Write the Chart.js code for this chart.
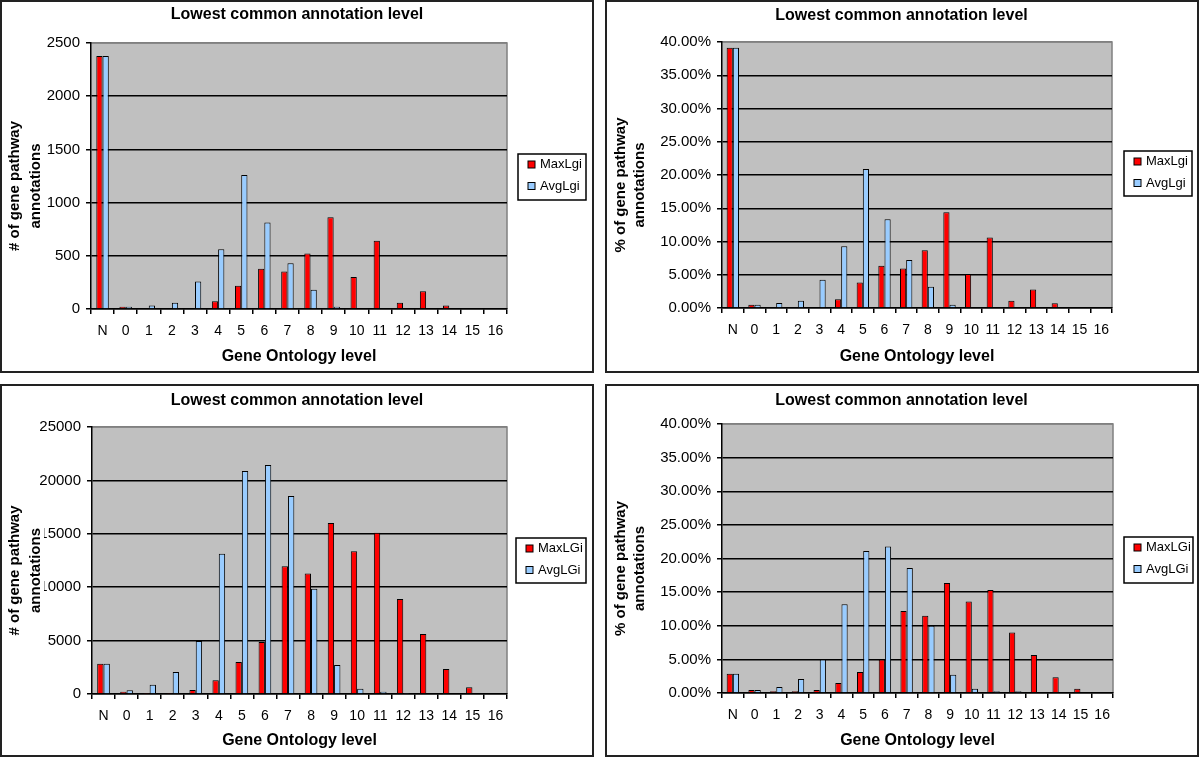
<!DOCTYPE html>
<html>
<head>
<meta charset="utf-8">
<title>Lowest common annotation level</title>
<script src="https://cdn.jsdelivr.net/npm/chart.js@4.4.0/dist/chart.umd.min.js"></script>
<style>
  body { margin: 0; background: #fff; }
  #page { position: relative; width: 1200px; height: 758px; overflow: hidden; }
  .panel { position: absolute; width: 594px; height: 373px; box-sizing: border-box; border: 2px solid #222; background: #fff; }
  .panel canvas { position: absolute; left: 0; top: 0; }
</style>
</head>
<body>
<div id="page">
  <div class="panel" style="left:0;top:0"><canvas id="countLgi" width="590" height="369"></canvas></div>
  <div class="panel" style="left:605px;top:0"><canvas id="pctLgi" width="589" height="369"></canvas></div>
  <div class="panel" style="left:0;top:384px"><canvas id="countLGi" width="590" height="369"></canvas></div>
  <div class="panel" style="left:605px;top:384px"><canvas id="pctLGi" width="589" height="369"></canvas></div>
</div>
<script>
// Gene Ontology levels (x categories)
const levels = ["N", "0", "1", "2", "3", "4", "5", "6", "7", "8", "9", "10", "11", "12", "13", "14", "15", "16"];

// Top left: number of annotations (Lgi)
const countMaxLgi = [2378, 22, 0, 0, 0, 72, 219, 378, 353, 522, 862, 300, 641, 59, 166, 34, 0, 0];
const countAvgLgi = [2378, 22, 34, 59, 259, 562, 1259, 812, 431, 181, 22, 0, 0, 0, 0, 0, 0, 0];

// Top right: percentage of annotations (Lgi)
const pctMaxLgi = [39.15, 0.5, 0, 0, 0, 1.3, 3.85, 6.35, 5.95, 8.7, 14.4, 5.1, 10.6, 1.1, 2.8, 0.7, 0, 0];
const pctAvgLgi = [39.15, 0.5, 0.75, 1.1, 4.25, 9.3, 20.9, 13.35, 7.2, 3.2, 0.5, 0, 0, 0, 0, 0, 0, 0];

// Bottom left: number of annotations (LGi)
const countMaxLGi = [2844, 219, 94, 94, 375, 1281, 3000, 4875, 11969, 11281, 16000, 13375, 15094, 8906, 5625, 2344, 625, 0];
const countAvgLGi = [2844, 344, 875, 2063, 4969, 13125, 20875, 21438, 18531, 9844, 2719, 500, 219, 94, 0, 0, 0, 0];

// Bottom right: percentage of annotations (LGi)
const pctMaxLGi = [2.88, 0.45, 0.25, 0.25, 0.45, 1.5, 3.13, 4.97, 12.2, 11.5, 16.35, 13.6, 15.3, 9.0, 5.66, 2.34, 0.65, 0];
const pctAvgLGi = [2.88, 0.45, 0.9, 2.1, 4.97, 13.2, 21.1, 21.8, 18.6, 10.0, 2.73, 0.65, 0.25, 0.25, 0, 0, 0, 0];

const FONT = "'Liberation Sans', Arial, sans-serif";

// grey plot area like the old Excel charts
const plotBackground = {
  id: "plotBackground",
  beforeDraw(chart) {
    const { ctx, chartArea: a } = chart;
    ctx.save();
    ctx.fillStyle = "#c0c0c0";
    ctx.fillRect(a.left, a.top, a.right - a.left, a.bottom - a.top);
    ctx.strokeStyle = "#808080";
    ctx.lineWidth = 1.5;
    ctx.beginPath();
    ctx.moveTo(a.left, a.top);
    ctx.lineTo(a.right, a.top);
    ctx.lineTo(a.right, a.bottom);
    ctx.stroke();
    ctx.restore();
  },
};

// legend with a frame around it
const boxedLegend = {
  id: "boxedLegend",
  afterDraw(chart, args, opts) {
    const { ctx } = chart;
    const b = opts.box;
    ctx.save();
    ctx.fillStyle = "#fff";
    ctx.fillRect(b.x, b.y, b.w, b.h);
    ctx.strokeStyle = "#000";
    ctx.lineWidth = 1.5;
    ctx.strokeRect(b.x, b.y, b.w, b.h);
    ctx.font = "13px " + FONT;
    ctx.textBaseline = "middle";
    chart.data.datasets.forEach((ds, i) => {
      const cy = b.y + 10.5 + i * 21.5;
      ctx.fillStyle = ds.backgroundColor;
      ctx.fillRect(b.x + 10, cy - 3.5, 7, 7);
      ctx.strokeStyle = "#000";
      ctx.lineWidth = 1;
      ctx.strokeRect(b.x + 10, cy - 3.5, 7, 7);
      ctx.fillStyle = "#000";
      ctx.fillText(ds.label, b.x + 22, cy);
    });
    ctx.restore();
  },
};

// y title on a white backing, drawn last (it hides the tick label under it)
const yAxisTitle = {
  id: "yAxisTitle",
  afterDraw(chart, args, opts) {
    const { ctx, chartArea: a } = chart;
    const cy = (a.top + a.bottom) / 2 + 10;
    ctx.save();
    ctx.font = "bold 15px " + FONT;
    ctx.textAlign = "center";
    ctx.textBaseline = "middle";
    opts.lines.forEach((line, i) => {
      const w = ctx.measureText(line).width;
      ctx.save();
      ctx.translate(opts.x[i], cy);
      ctx.rotate(-Math.PI / 2);
      ctx.fillStyle = "#fff";
      ctx.fillRect(-w / 2 - 1, -8, w + 2, 16);
      ctx.fillStyle = "#000";
      ctx.fillText(line, 0, 0);
      ctx.restore();
    });
    ctx.restore();
  },
};

function drawPanel(id, cfg) {
  const canvas = document.getElementById(id);
  const W = canvas.width;
  const H = canvas.height;
  const p = cfg.plot;
  const titleTop = cfg.titleY - 9.6;
  new Chart(canvas, {
    type: "bar",
    data: {
      labels: levels,
      datasets: [
        {
          label: cfg.names[0],
          data: cfg.max,
          backgroundColor: "#ff0000",
          borderColor: "#000",
          borderWidth: 1,
          categoryPercentage: cfg.catPct,
          barPercentage: 1,
        },
        {
          label: cfg.names[1],
          data: cfg.avg,
          backgroundColor: "#99ccff",
          borderColor: "#000",
          borderWidth: 1,
          categoryPercentage: cfg.catPct,
          barPercentage: 1,
        },
      ],
    },
    options: {
      responsive: false,
      animation: false,
      layout: { padding: 0 },
      plugins: {
        legend: { display: false },
        tooltip: { enabled: false },
        title: {
          display: true,
          text: "Lowest common annotation level",
          color: "#000",
          font: { family: FONT, size: 16, weight: "bold" },
          padding: { top: titleTop, bottom: p.t - 19.2 - titleTop },
        },
        boxedLegend: { box: cfg.legend },
        yAxisTitle: { lines: cfg.yTitle, x: cfg.yTitleX },
      },
      scales: {
        x: {
          grid: {
            offset: true,
            drawOnChartArea: false,
            color: "#000",
            tickColor: "#000",
            tickLength: 5,
            lineWidth: 1.5,
          },
          border: { color: "#000", width: 1.5 },
          ticks: {
            color: "#000",
            font: { family: FONT, size: 14 },
            padding: 9,
            maxRotation: 0,
            autoSkip: false,
          },
          title: {
            display: true,
            text: "Gene Ontology level",
            color: "#000",
            font: { family: FONT, size: 16, weight: "bold" },
            padding: { top: 0, bottom: 4.5 },
          },
          afterFit: (s) => {
            s.height = H - p.b;
          },
        },
        y: {
          min: 0,
          max: cfg.yMax,
          ticks: {
            stepSize: cfg.step,
            color: "#000",
            font: { family: FONT, size: 15 },
            padding: 6,
            callback: cfg.fmt,
          },
          grid: {
            color: (c) => (c.tick && c.tick.value === cfg.yMax ? "#808080" : "#000"),
            tickColor: "#000",
            tickLength: 5,
            lineWidth: 1.5,
          },
          border: { color: "#000", width: 1.5 },
          afterFit: (s) => {
            s.width = p.l;
          },
        },
        // empty right-hand strip that holds the legend
        legendSpace: {
          type: "linear",
          position: "right",
          grid: { display: false, drawTicks: false },
          border: { display: false },
          ticks: { display: false },
          afterFit: (s) => {
            s.width = W - p.r;
          },
        },
      },
    },
    plugins: [plotBackground, boxedLegend, yAxisTitle],
  });
}

const countFmt = (v) => v;
const pctFmt = (v) => v.toFixed(2) + "%";

drawPanel("countLgi", {
  max: countMaxLgi, avg: countAvgLgi, names: ["MaxLgi", "AvgLgi"],
  yMax: 2500, step: 500, fmt: countFmt,
  yTitle: ["# of gene pathway", "annotations"], yTitleX: [13, 34],
  plot: { l: 89, t: 41, r: 505, b: 307 }, titleY: 13, catPct: 0.54,
  legend: { x: 516, y: 152, w: 68, h: 46 },
});

drawPanel("pctLgi", {
  max: pctMaxLgi, avg: pctAvgLgi, names: ["MaxLgi", "AvgLgi"],
  yMax: 40, step: 5, fmt: pctFmt,
  yTitle: ["% of gene pathway", "annotations"], yTitleX: [14, 33],
  plot: { l: 115, t: 40, r: 505, b: 306 }, titleY: 14, catPct: 0.57,
  legend: { x: 517, y: 149, w: 68, h: 45 },
});

drawPanel("countLGi", {
  max: countMaxLGi, avg: countAvgLGi, names: ["MaxLGi", "AvgLGi"],
  yMax: 25000, step: 5000, fmt: countFmt,
  yTitle: ["# of gene pathway", "annotations"], yTitleX: [13, 34],
  plot: { l: 90, t: 41, r: 505, b: 308 }, titleY: 14.7, catPct: 0.55,
  legend: { x: 514, y: 152, w: 70, h: 45 },
});

drawPanel("pctLGi", {
  max: pctMaxLGi, avg: pctAvgLGi, names: ["MaxLGi", "AvgLGi"],
  yMax: 40, step: 5, fmt: pctFmt,
  yTitle: ["% of gene pathway", "annotations"], yTitleX: [14, 33],
  plot: { l: 115, t: 38, r: 506, b: 307 }, titleY: 14.7, catPct: 0.57,
  legend: { x: 517, y: 151, w: 69, h: 46 },
});
</script>
</body>
</html>
